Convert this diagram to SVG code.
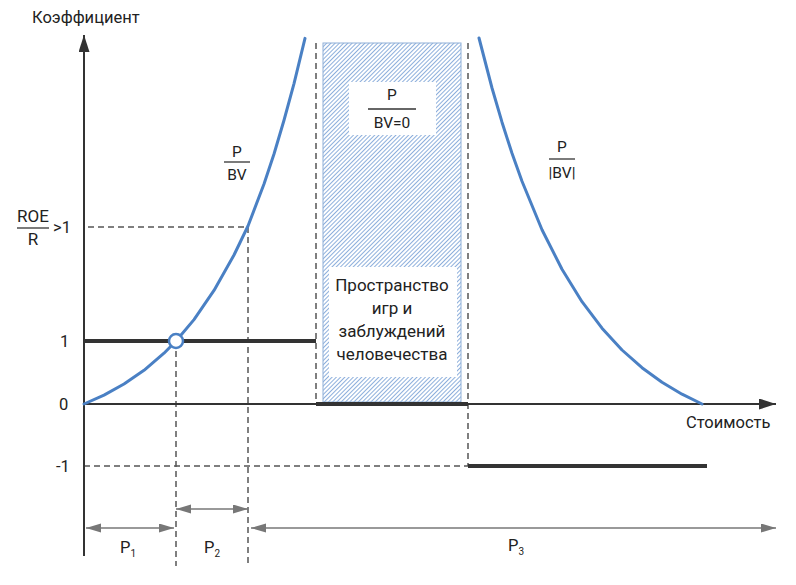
<svg xmlns="http://www.w3.org/2000/svg" width="796" height="585" viewBox="0 0 796 585">
<style>
text{font-family:Roboto,"Liberation Sans","Noto Sans",sans-serif;fill:#222;}
.t{font-size:16.5px;}
.f{font-size:15.5px;text-anchor:middle;}
.c{font-size:17px;text-anchor:middle;}
.sub{font-size:10px;}
.axis{stroke:#333;stroke-width:2;fill:none;}
.thick{stroke:#333;stroke-width:4;fill:none;}
.dash{stroke:#555;stroke-width:1.5;stroke-dasharray:6 4;fill:none;}
.dim{stroke:#777;stroke-width:1.5;fill:none;marker-start:url(#dh);marker-end:url(#dh);}
.curve{stroke:#4a80c4;stroke-width:3;fill:none;stroke-linejoin:round;stroke-linecap:round;}
.frac{stroke:#333;stroke-width:1.3;}
</style>
<defs>
<pattern id="hatch" patternUnits="userSpaceOnUse" width="3" height="4" patternTransform="rotate(45)">
<rect width="3" height="4" fill="#fff"/>
<line x1="0.5" y1="0" x2="0.5" y2="4" stroke="#80a6d8" stroke-width="0.9"/>
</pattern>
<marker id="dh" markerUnits="userSpaceOnUse" markerWidth="16" markerHeight="10" refX="15" refY="4.5" orient="auto-start-reverse">
<path d="M0,0 L15,4.5 L0,9 z" fill="#777"/>
</marker>
<marker id="ah" markerUnits="userSpaceOnUse" markerWidth="18" markerHeight="12" refX="17" refY="5.5" orient="auto">
<path d="M0,0 L17,5.5 L0,11 z" fill="#333"/>
</marker>
</defs>

<g id="zone">
<rect x="323" y="43" width="138" height="359" fill="url(#hatch)" stroke="#8fb0d8" stroke-width="1"/>
<rect x="349" y="82" width="87" height="53" fill="#fff"/>
<text class="f" x="392" y="100">P</text>
<line class="frac" x1="368" y1="109" x2="416" y2="109"/>
<text class="f" x="392" y="128">BV=0</text>
<rect x="329" y="267" width="128" height="110" fill="#fff"/>
<text class="c" x="392" y="291">Пространство</text>
<text class="c" x="392" y="314">игр и</text>
<text class="c" x="392" y="337">заблуждений</text>
<text class="c" x="392" y="360">человечества</text>
</g>

<g id="connectors">
<line class="dash" x1="88" y1="227" x2="248" y2="227"/>
<line class="dash" x1="84" y1="466" x2="468" y2="466"/>
<line class="dash" x1="176" y1="341" x2="176" y2="566"/>
<line class="dash" x1="248" y1="227" x2="248" y2="566"/>
<line class="dash" x1="316" y1="43" x2="316" y2="404"/>
<line class="dash" x1="468" y1="43" x2="468" y2="466"/>
<line class="thick" x1="84" y1="341" x2="316" y2="341"/>
<line class="thick" x1="316" y1="404" x2="468" y2="404"/>
<line class="thick" x1="468" y1="466" x2="707" y2="466"/>
<line class="axis" x1="84" y1="556" x2="84" y2="35" marker-end="url(#ah)"/>
<line class="axis" x1="84" y1="404" x2="776" y2="404" marker-end="url(#ah)"/>
<polyline class="curve" points="84,404 104,395.1 124,384 144,370.3 164,353.2 176,341 194,319.6 214,290.4 234,255 248,226 264,184 274,154 284,120.2 294,83.6 305,38.4"/>
<polyline class="curve" points="702,404 682,394.2 662,382.3 642,367.7 622,350 602,328.2 582,301.7 562,269.3 542,229.7 522,181.3 512,153.3 502,122.2 492,88 479,38"/>
<line class="dim" x1="86" y1="528" x2="174" y2="528"/>
<line class="dim" x1="176" y1="509" x2="248" y2="509"/>
<line class="dim" x1="251" y1="528" x2="776" y2="528"/>
</g>

<g id="point">
<circle cx="176" cy="341" r="7" fill="#fff" stroke="#4a80c4" stroke-width="2.5"/>
</g>

<g id="labels">
<text class="t" x="32" y="23">Коэффициент</text>
<text class="t" x="686" y="428">Стоимость</text>
<text class="t" x="60" y="347">1</text>
<text class="t" x="59" y="410">0</text>
<text class="t" x="56" y="472">-1</text>
<text class="c" x="33" y="222">ROE</text>
<line class="frac" x1="17" y1="228" x2="49" y2="228"/>
<text class="c" x="33" y="245">R</text>
<text class="t" x="53" y="233">&gt;1</text>
<text class="f" x="237" y="157">P</text>
<line class="frac" x1="224" y1="162" x2="250" y2="162"/>
<text class="f" x="237" y="180">BV</text>
<text class="f" x="562" y="152">P</text>
<line class="frac" x1="549" y1="159" x2="575" y2="159"/>
<text class="f" x="562" y="178">|BV|</text>
<text class="t" x="120" y="553">P<tspan class="sub" dy="4">1</tspan></text>
<text class="t" x="204" y="553">P<tspan class="sub" dy="4">2</tspan></text>
<text class="t" x="508" y="551">P<tspan class="sub" dy="4">3</tspan></text>
</g>
</svg>
